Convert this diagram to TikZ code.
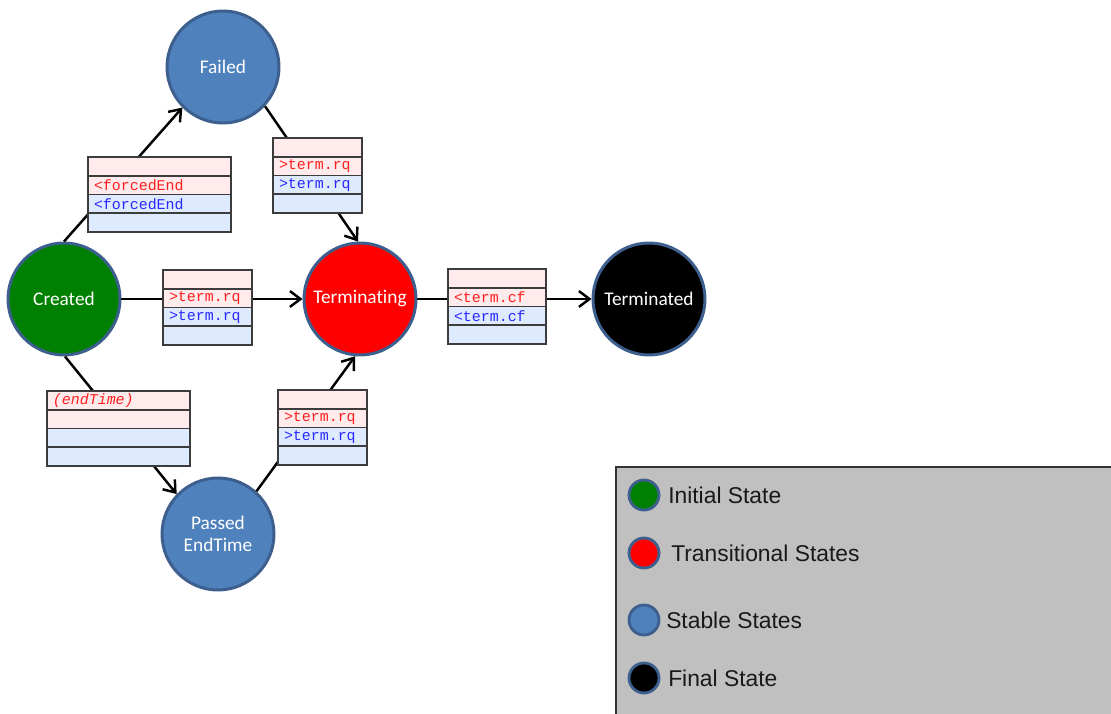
\documentclass[tikz,border=0pt]{standalone}
\usepackage{fontspec}
\setmainfont{Liberation Sans}
\setmonofont{Liberation Mono}
\newfontfamily\statefont[Ligatures=NoCommon]{Carlito}
\usetikzlibrary{positioning,arrows.meta}

\definecolor{stateborder}{RGB}{61,95,142}
\definecolor{initgreen}{RGB}{0,128,0}
\definecolor{transred}{RGB}{255,0,0}
\definecolor{stableblue}{RGB}{79,129,189}
\definecolor{reqpink}{RGB}{255,235,235}
\definecolor{cnfblue}{RGB}{222,235,255}
\definecolor{msgred}{RGB}{255,30,30}
\definecolor{msgblue}{RGB}{40,40,255}
\definecolor{boxborder}{RGB}{60,60,60}
\definecolor{legendgray}{RGB}{192,192,192}

\tikzset{
  state/.style={circle, draw=stateborder, line width=1.7pt, minimum size=2.24cm,
    inner sep=0pt, text=white, align=center,
    font=\statefont\fontsize{11}{12.5}\selectfont},
  initstate/.style={state, fill=initgreen},
  transstate/.style={state, fill=transred},
  stablestate/.style={state, fill=stableblue},
  finalstate/.style={state, fill=black},
  msgrow/.style={draw=boxborder, line width=1.1pt, minimum height=0.375cm,
    inner ysep=0pt, inner xsep=0.12cm, outer sep=0pt, align=left,
    font=\ttfamily\fontsize{8.5}{9}\selectfont},
  reqrow/.style={msgrow, fill=reqpink, text=msgred},
  cnfrow/.style={msgrow, fill=cnfblue, text=msgblue},
  trans/.style={line width=1.4pt, -{Straight Barb[length=6pt,width=9pt,line width=1.4pt]}},
  legdot/.style={minimum size=0.6cm, line width=1.6pt},
  legtext/.style={right=0.15cm of #1, inner sep=0pt, font=\fontsize{13}{15}\selectfont, text=black!90},
}

\newcommand{\msgbox}[6]{%
  \node[reqrow, text width=#3, anchor=north west] (#1a) at (#2) {#4};
  \node[reqrow, text width=#3, below=0pt of #1a] (#1b) {#5};
  \node[cnfrow, text width=#3, below=0pt of #1b] (#1c) {#6};
  \node[cnfrow, text width=#3, below=0pt of #1c] (#1d) {};
}

\begin{document}
\begin{tikzpicture}[x=0.02cm, y=-0.02cm]
  \useasboundingbox (0,0) rectangle (1111,713);

  \node[stablestate] (failed) at (223,67) {Failed};
  \node[initstate] (created) at (64,299) {Created};
  \node[transstate] (terminating) at (360,299) {Terminating};
  \node[finalstate] (terminated) at (649,299) {Terminated};
  \node[stablestate] (passed) at (218,534) {Passed\\EndTime};

  \draw[trans] (created.90) -- (failed.225);
  \draw[trans] (failed.-43) -- (terminating.92);
  \draw[trans] (created.east) -- (terminating.west);
  \draw[trans] (created.-89) -- (passed.136);
  \draw[trans] (passed.48) -- (terminating.-95);
  \draw[trans] (terminating.east) -- (terminated.west);

  \msgbox{fe}{88,157}{2.62cm}{}{<forcedEnd}{<forcedEnd}
  \msgbox{ct}{163,270}{1.54cm}{}{>term.rq}{>term.rq}
  \msgbox{ft}{273,138}{1.54cm}{}{>term.rq}{>term.rq}
  \msgbox{pt}{278,390}{1.54cm}{}{>term.rq}{>term.rq}
  \msgbox{tt}{448,269}{1.72cm}{}{<term.cf}{<term.cf}
  \node[reqrow, text width=2.62cm, anchor=north west] (eta) at (47,391) {\itshape(endTime)};
  \node[reqrow, text width=2.62cm, below=0pt of eta] (etb) {};
  \node[cnfrow, text width=2.62cm, below=0pt of etb] (etc) {};
  \node[cnfrow, text width=2.62cm, below=0pt of etc] (etd) {};

  \draw[draw=black!80, fill=legendgray, line width=1pt] (616,467) rectangle (1114,716);
  \node[initstate, legdot] (leginit) at (644,495) {};
  \node[legtext=leginit] {Initial State};
  \node[transstate, legdot] (legtrans) at (644,553) {};
  \node[legtext=legtrans, xshift=0.06cm] {Transitional States};
  \node[stablestate, legdot] (legstable) at (644,620) {};
  \node[legtext=legstable, xshift=-0.04cm] {Stable States};
  \node[finalstate, legdot] (legfinal) at (644,678) {};
  \node[legtext=legfinal] {Final State};
\end{tikzpicture}
\end{document}
